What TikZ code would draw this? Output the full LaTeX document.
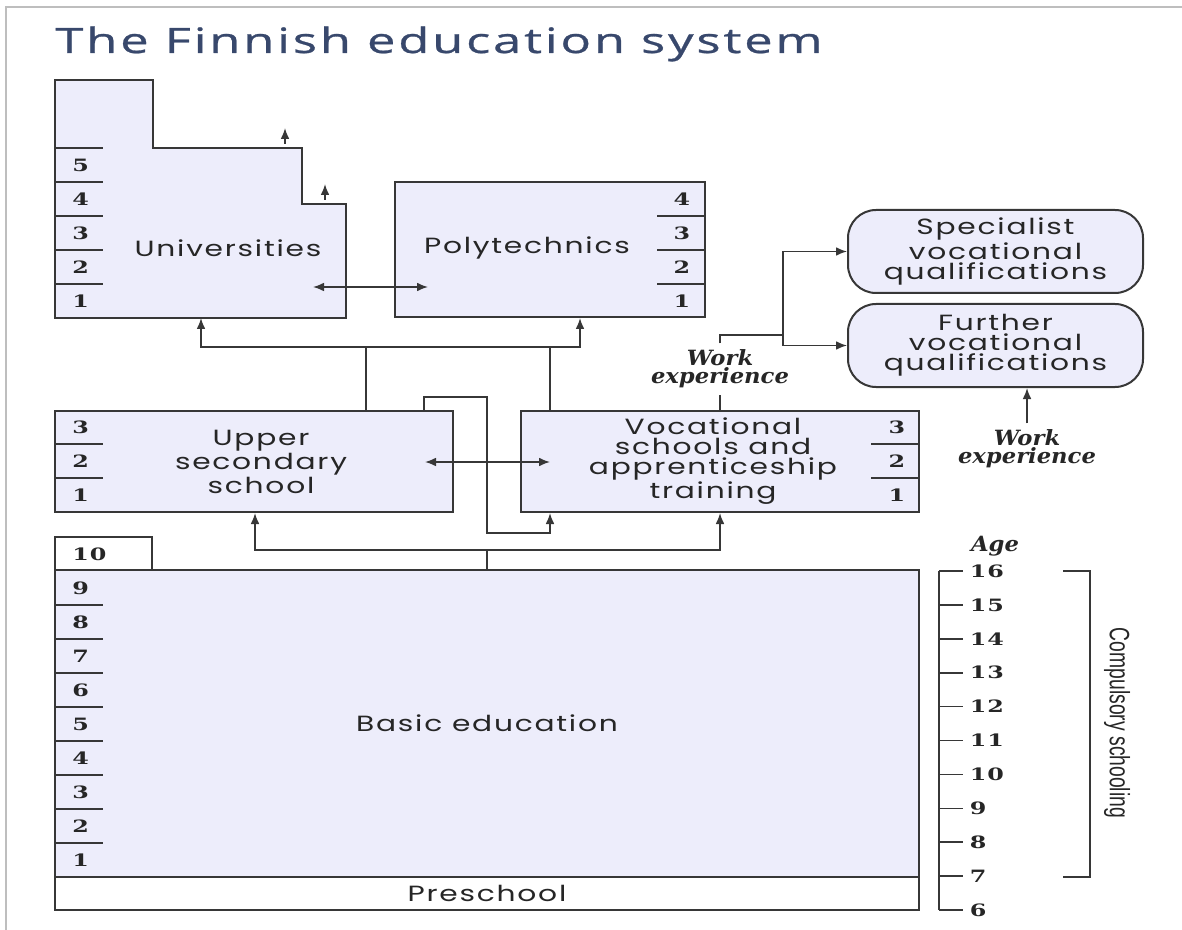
\documentclass[tikz,border=0pt]{standalone}
\usepackage{fontspec}
\usetikzlibrary{arrows.meta}
\usepackage{xcolor}
\setmainfont{DejaVu Serif}
\newfontfamily\titlefont[FakeStretch=1.45,LetterSpace=8,FakeBold=0.8,Ligatures={NoCommon}]{Open Sans}
\newfontfamily\boxfont[FakeStretch=1.35,LetterSpace=8]{Poppins}
\newfontfamily\numfont[FakeStretch=1.4,LetterSpace=6]{DejaVu Serif}
\newfontfamily\workfont[FakeStretch=1.08]{DejaVu Serif}
\newfontfamily\sidefont{Liberation Sans}
\definecolor{edline}{RGB}{55,55,55}
\definecolor{edfill}{RGB}{237,237,251}
\definecolor{edtitle}{RGB}{56,72,108}
\definecolor{edframe}{RGB}{190,190,190}
\tikzset{
 box/.style={draw=edline, line width=1pt, fill=edfill, inner sep=0pt},
 wbox/.style={box, fill=white},
 qbox/.style={box, rounded corners=14pt},
 boxtext/.style={font=\boxfont\fontsize{11}{10}\selectfont, text=black!85, align=center, inner sep=0pt},
 num/.style={font=\numfont\bfseries\fontsize{8.5}{8}\selectfont, text=black!85, inner sep=0pt},
 work/.style={font=\workfont\bfseries\itshape\fontsize{10.5}{9}\selectfont, text=black!85, align=center, inner sep=3pt},
 link/.style={draw=edline, line width=.8pt},
}
\begin{document}
\begin{tikzpicture}[x=.5pt, y=-.5pt, >={Latex[length=5.5pt,width=4.4pt]}]
\useasboundingbox (0,0) rectangle (1182,930);
\draw[edframe, line width=1.2pt] (6,930) -- (6,7) -- (1182,7);
\node[anchor=base west, inner sep=0pt, text=edtitle, font=\titlefont\fontsize{17.5}{17}\selectfont] (title) at (55,53) {The Finnish education system};

\draw[box] (55,80) -- (153,80) -- (153,148) -- (302,148) -- (302,204) -- (346,204) -- (346,318) -- (55,318) -- cycle;
\node[boxtext] (unitext) at (228,248) {Universities};
\foreach \n in {1,...,5} {
 \draw[link, line width=.7pt] (55,318-34*\n) --++(48,0);
 \node[num, anchor=west] (uni\n) at (72,335-34*\n) {\n};
}
\draw[link,->] (285,144) -- (285,128);
\draw[link,->] (325,200) -- (325,184);

\node[box, minimum width=155pt, minimum height=67.5pt] (poly) at (550,249.5) {};
\node[boxtext] (polytext) at (527,248) {Polytechnics};
\foreach \n in {1,...,4} \node[num] (poly\n) at (682,335-34*\n) {\n};
\foreach \n in {1,...,3} \draw[link, line width=.7pt] (657,318-34*\n) --++(48,0);
\draw[link,<->] (313,287) -- (428,287);

\node[box, minimum width=199pt, minimum height=50.5pt] (upsec) at (254,461.5) {};
\node[boxtext] (upsectext) at (261,462) {Upper\\secondary\\school};
\node[box, minimum width=199pt, minimum height=50.5pt] (voc) at (720,461.5) {};
\node[boxtext] (voctext) at (713,461) {Vocational\\schools and\\apprenticeship\\training};
\foreach \n in {1,...,3} {
 \node[num, anchor=west] (upsec\n) at (72,529-34*\n) {\n};
 \node[num] (voc\n) at (897,529-34*\n) {\n};
}
\foreach \n in {1,2} {
 \draw[link, line width=.7pt] (55,512-34*\n) --++(48,0);
 \draw[link, line width=.7pt] (871,512-34*\n) --++(48,0);
}

\node[qbox, minimum width=147.5pt, minimum height=41.5pt, boxtext] (spec) at (995.5,251.5) {Specialist\\vocational\\qualifications};
\node[qbox, minimum width=147.5pt, minimum height=41.5pt, boxtext] (furth) at (995.5,345.5) {Further\\vocational\\qualifications};

\node[wbox, minimum width=48.5pt, minimum height=16.5pt] (ten) at (103.5,553.5) {};
\node[num, anchor=west] (tentext) at (72,554) {10};
\node[box, minimum width=432pt, minimum height=153.5pt, boxtext] (basic) at (487,723.5) {Basic education};
\node[wbox, minimum width=432pt, minimum height=16.5pt, boxtext] (pre) at (487,893.5) {Preschool};
\foreach \n in {1,...,9} \node[num, anchor=west] (basic\n) at (72,894-34*\n) {\n};
\foreach \n in {1,...,8} \draw[link, line width=.7pt] (55,877-34*\n) --++(48,0);

\coordinate (unibot) at (201,318);
\draw[link,<->] (unibot) |- (390,347) -| ([xshift=15pt]poly.south);
\draw[link] (upsec.north -| 366,0) -- (366,347);
\draw[link] (voc.north -| 550,0) -- (550,347);
\draw[link,->] (upsec.north -| 424,0) |- (487,397) |- (550,533) -- (voc.south -| 550,0);
\draw[link,<->] (425,462) -- (550,462);
\draw[link,<->] (upsec.south -| 255,0) |- (487,550) -| (voc.south);
\draw[link] (487,550) -- (basic.north);

\node[work] (work1) at (720,369) {Work\\experience};
\draw[link] (voc.north) -- (work1.south);
\draw[link] (work1.north) |- (783,335);
\draw[link,->] (783,335) |- (spec.west);
\draw[link,->] (783,335) |- (furth.west);
\node[work] (work2) at (1027,449) {Work\\experience};
\draw[link,->] (work2.north) -- (work2.north |- furth.south);

\node[work, inner sep=0pt] (agehead) at (995,546) {Age};
\draw[link] (939,571) -- (939,910);
\foreach \a [evaluate=\a as \yy using 571+33.9*(16-\a)] in {16,...,6}
 \draw[link] (939,\yy) --++(24,0) node[num, anchor=west, xshift=3pt] (age\a) {\a};
\draw[link] (1063,571) -| (1090,877) -- (1063,877);
\node[rotate=-90, inner sep=0pt, text=black!85, font=\sidefont\fontsize{14}{14}\selectfont] (comp) at (1117,723) {\scalebox{0.69}[1]{Compulsory schooling}};
\end{tikzpicture}
\end{document}
